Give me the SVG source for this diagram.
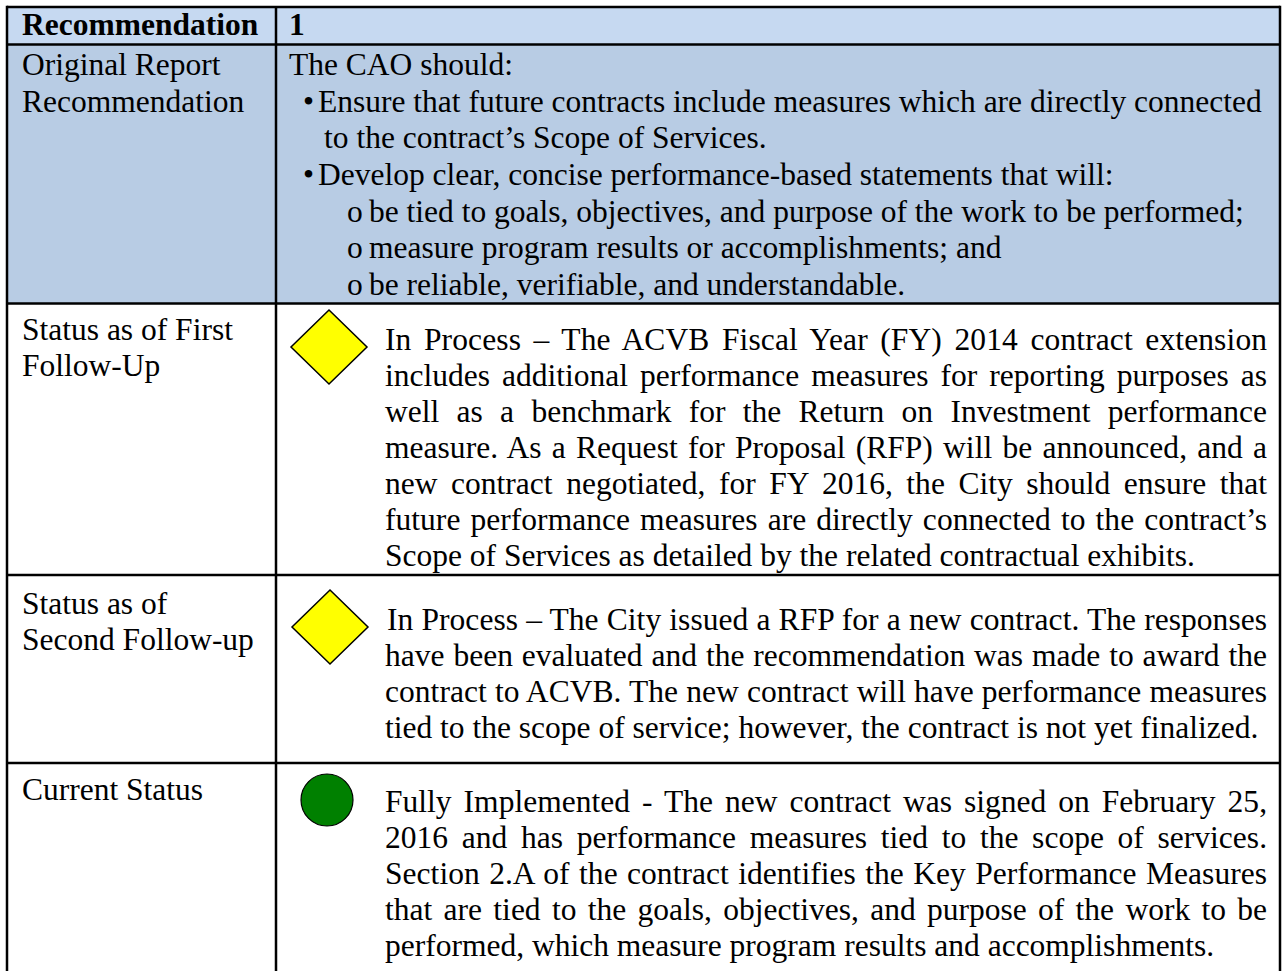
<svg xmlns="http://www.w3.org/2000/svg" width="1285" height="971" viewBox="0 0 1285 971">
<style>
text { font-family: "Liberation Serif", "Times New Roman", serif; font-size: 31.5px; fill: #000; }
.b { font-weight: bold; }
.grid line { stroke: #000; stroke-width: 2.5; }
.dia { fill: #ffff00; stroke: #000; stroke-width: 1.5; }
.dot { fill: #008000; stroke: #000; stroke-width: 1.2; }
</style>
<rect x="0" y="0" width="1285" height="971" fill="#ffffff"/>
<g id="fills">
<rect x="7" y="7" width="1273" height="37.5" fill="#c6d9f1"/>
<rect x="7" y="44.5" width="1273" height="259" fill="#b8cce4"/>
</g>
<g id="header">
<text class="b" x="22" y="35">Recommendation</text>
<text class="b" x="289" y="35">1</text>
</g>
<g id="row-original">
<text x="22" y="75">Original Report</text>
<text x="22" y="111.7">Recommendation</text>
<text x="289" y="75">The CAO should:</text>
<text x="303" y="111.7">•</text>
<text x="318" y="111.7">Ensure that future contracts include measures which are directly connected</text>
<text x="324" y="148.3">to the contract’s Scope of Services.</text>
<text x="303" y="185">•</text>
<text x="318" y="185">Develop clear, concise performance-based statements that will:</text>
<text x="347" y="221.7">o</text>
<text x="369" y="221.7">be tied to goals, objectives, and purpose of the work to be performed;</text>
<text x="347" y="258.3">o</text>
<text x="369" y="258.3">measure program results or accomplishments; and</text>
<text x="347" y="295">o</text>
<text x="369" y="295">be reliable, verifiable, and understandable.</text>
</g>
<g id="row-first-followup">
<text x="22" y="340">Status as of First</text>
<text x="22" y="376">Follow-Up</text>
<polygon class="dia" points="329,310 367,347 329,384 291,347"/>
<text x="385" y="350" word-spacing="4.5" textLength="882" lengthAdjust="spacing">In Process – The ACVB Fiscal Year (FY) 2014 contract extension</text>
<text x="385" y="386" word-spacing="4.1" textLength="882" lengthAdjust="spacing">includes additional performance measures for reporting purposes as</text>
<text x="385" y="422" word-spacing="9.4" textLength="882" lengthAdjust="spacing">well as a benchmark for the Return on Investment performance</text>
<text x="385" y="458" word-spacing="2.3" textLength="882" lengthAdjust="spacing">measure. As a Request for Proposal (RFP) will be announced, and a</text>
<text x="385" y="494" word-spacing="5.6" textLength="882" lengthAdjust="spacing">new contract negotiated, for FY 2016, the City should ensure that</text>
<text x="385" y="530" word-spacing="2.2" textLength="882" lengthAdjust="spacing">future performance measures are directly connected to the contract’s</text>
<text x="385" y="566">Scope of Services as detailed by the related contractual exhibits.</text>
</g>
<g id="row-second-followup">
<text x="22" y="614">Status as of</text>
<text x="22" y="650">Second Follow-up</text>
<polygon class="dia" points="330,590 368,627 330,664 292,627"/>
<text x="387" y="630" word-spacing="0.2" textLength="880" lengthAdjust="spacing">In Process – The City issued a RFP for a new contract. The responses</text>
<text x="385" y="666" word-spacing="1" textLength="882" lengthAdjust="spacing">have been evaluated and the recommendation was made to award the</text>
<text x="385" y="702" word-spacing="0.2" textLength="882" lengthAdjust="spacing">contract to ACVB. The new contract will have performance measures</text>
<text x="385" y="738">tied to the scope of service; however, the contract is not yet finalized.</text>
</g>
<g id="row-current">
<text x="22" y="800">Current Status</text>
<circle class="dot" cx="327" cy="800" r="26"/>
<text x="385" y="812" word-spacing="4.1" textLength="882" lengthAdjust="spacing">Fully Implemented - The new contract was signed on February 25,</text>
<text x="385" y="848" word-spacing="5.8" textLength="882" lengthAdjust="spacing">2016 and has performance measures tied to the scope of services.</text>
<text x="385" y="884" word-spacing="1.5" textLength="882" lengthAdjust="spacing">Section 2.A of the contract identifies the Key Performance Measures</text>
<text x="385" y="920" word-spacing="3.4" textLength="882" lengthAdjust="spacing">that are tied to the goals, objectives, and purpose of the work to be</text>
<text x="385" y="956">performed, which measure program results and accomplishments.</text>
</g>
<g id="grid" class="grid">
<line x1="7" y1="7" x2="1280" y2="7"/>
<line x1="7" y1="44.5" x2="1280" y2="44.5"/>
<line x1="7" y1="303.5" x2="1280" y2="303.5"/>
<line x1="7" y1="575" x2="1280" y2="575"/>
<line x1="7" y1="763" x2="1280" y2="763"/>
<line x1="7" y1="5.75" x2="7" y2="975"/>
<line x1="276" y1="7" x2="276" y2="975"/>
<line x1="1280" y1="5.75" x2="1280" y2="975"/>
</g>
</svg>
